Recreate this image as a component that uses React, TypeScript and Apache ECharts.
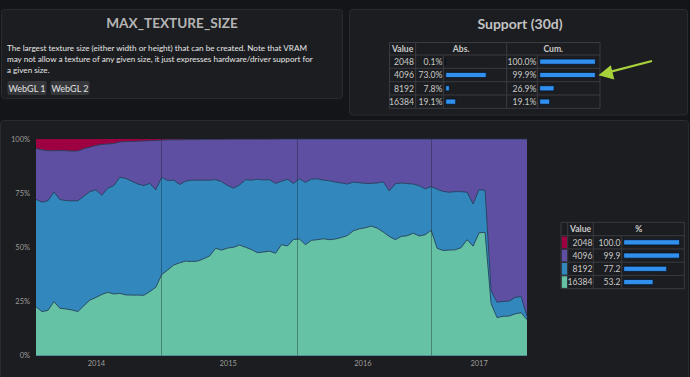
import React, { useEffect, useRef } from 'react';
import * as echarts from 'echarts';

// ---- data ----
const sizes = ['2048', '4096', '8192', '16384'];
const absPct = [0.1, 73.0, 7.8, 19.1];
const cumPct = [100.0, 99.9, 26.9, 19.1];
const legendPct = [100.0, 99.9, 77.2, 53.2];
const yearLabels = ['2014', '2015', '2016', '2017'];
const yearPos = [10.1, 32.1, 54.6, 74.0];
const annotationPos = [21.0, 43.6, 66.0];

// cumulative share (%) of devices supporting at least the given size
const cum2048 = [
  100, 100, 100, 100, 100, 100, 100, 100, 100, 100, 100, 100, 100, 100, 100, 100, 100, 100, 100, 100,
  100, 100, 100, 100, 100, 100, 100, 100, 100, 100, 100, 100, 100, 100, 100, 100, 100, 100, 100, 100,
  100, 100, 100, 100, 100, 100, 100, 100, 100, 100, 100, 100, 100, 100, 100, 100, 100, 100, 100, 100,
  100, 100, 100, 100, 100, 100, 100, 100, 100, 100, 100, 100, 100, 100, 100, 100, 100, 100, 100, 100,
  100, 100, 100,
];
const cum4096 = [
  95.6, 95.0, 94.6, 94.6, 94.7, 94.6, 94.4, 94.5, 95.5, 96.2, 97.0, 97.5, 97.7, 97.9, 98.6, 98.8, 98.9, 99.0, 99.1, 99.2,
  99.3, 99.5, 99.6, 99.6, 99.6, 99.7, 99.7, 99.7, 99.8, 99.8, 99.8, 99.8, 99.9, 99.9, 99.9, 99.9, 99.9, 99.9, 99.9, 99.9,
  99.9, 100, 100, 100, 100, 100, 100, 100, 100, 100, 100, 100, 100, 100, 100, 100, 100, 100, 100, 100,
  100, 100, 100, 100, 100, 100, 100, 100, 100, 100, 100, 100, 100, 100, 100, 100, 100, 100, 100, 100,
  100, 100, 100,
];
const cum8192 = [
  72.1, 70.8, 71.5, 75.5, 72.0, 71.6, 71.4, 71.5, 73.6, 75.7, 76.5, 74.0, 77.3, 78.5, 82.3, 81.8, 80.5, 79.2, 78.5, 79.5,
  76.5, 82.3, 80.8, 81.0, 79.0, 80.5, 81.0, 81.0, 81.0, 81.0, 81.2, 80.3, 78.5, 77.3, 78.8, 81.2, 81.0, 81.4, 81.1, 81.2,
  79.5, 80.5, 81.4, 79.5, 81.6, 80.0, 81.5, 81.6, 81.0, 80.7, 80.1, 79.7, 79.2, 80.1, 79.8, 79.5, 79.5, 79.7, 80.2, 76.0,
  79.3, 79.7, 79.4, 79.2, 78.4, 77.0, 78.0, 76.8, 75.8, 75.4, 75.7, 75.7, 75.4, 70.0, 76.6, 76.3, 30.0, 24.6, 25.0, 25.1,
  26.8, 27.3, 18.0,
];
const cum16384 = [
  22.5, 20.3, 20.8, 24.9, 21.8, 21.5, 21.0, 20.3, 23.0, 25.6, 26.8, 28.2, 29.2, 28.4, 28.7, 28.0, 27.9, 27.9, 27.8, 29.5,
  31.5, 37.4, 39.5, 41.8, 42.8, 43.6, 43.4, 43.6, 44.7, 46.0, 49.5, 48.7, 49.6, 50.0, 51.0, 50.0, 48.9, 47.5, 47.8, 48.2,
  47.2, 51.2, 50.6, 53.6, 53.8, 51.2, 53.2, 53.5, 53.9, 53.5, 53.8, 54.5, 55.4, 57.6, 58.5, 59.0, 59.8, 58.8, 57.0, 55.0,
  53.5, 55.0, 55.3, 56.5, 55.2, 55.8, 57.8, 49.5, 48.5, 48.7, 48.8, 49.8, 53.5, 50.5, 56.7, 56.9, 24.0, 17.5, 18.1, 18.2,
  19.2, 19.8, 16.5,
];

const seriesColors = ['#9e0142', '#5e4fa2', '#3288bd', '#66c2a5'];

const FONT = "Lato, 'Noto Sans', sans-serif";
const PAGE_BG = '#141518';
const PANEL_BG = '#1c1d20';
const PANEL_BORDER = '#2a2b2f';
const TABLE_LINE = '#3a3b40';
const TABLE_TEXT = '#c9c9c9';
const BAR_COLOR = '#3190ee';
const TSIZE = 8.6;

function rect(x: number, y: number, w: number, h: number, fill: string, stroke?: string, r = 0, z = 0) {
  return {
    type: 'rect',
    z,
    silent: true,
    shape: { x, y, width: w, height: h, r },
    style: { fill, stroke: stroke || 'none', lineWidth: stroke ? 1 : 0 },
  };
}
function line(x1: number, y1: number, x2: number, y2: number, stroke = TABLE_LINE, lineWidth = 1, z = 1) {
  return { type: 'line', z, silent: true, shape: { x1, y1, x2, y2 }, style: { stroke, lineWidth } };
}
function txt(x: number, y: number, text: string, o: any = {}) {
  return {
    type: 'text',
    z: 5,
    silent: true,
    x,
    y,
    style: {
      text,
      fill: o.fill || TABLE_TEXT,
      fontFamily: FONT,
      fontSize: o.size || TSIZE,
      fontWeight: o.weight || 'normal',
      align: o.align || 'left',
      verticalAlign: o.valign || 'middle',
      lineHeight: o.lineHeight,
    },
  };
}

function buildGraphics() {
  const G: any[] = [];
  // panels
  G.push(rect(1.5, 9.5, 341, 89, PANEL_BG, PANEL_BORDER, 3));
  G.push(rect(349.5, 9.5, 338, 105.5, PANEL_BG, PANEL_BORDER, 3));
  G.push(rect(0.5, 120.5, 688, 262, PANEL_BG, PANEL_BORDER, 3));

  // left panel content
  G.push(txt(172, 23, 'MAX_TEXTURE_SIZE', { size: 13.6, weight: 'bold', fill: '#b5b5b5', align: 'center' }));
  G.push(
    txt(
      7,
      42.8,
      'The largest texture size (either width or height) that can be created. Note that VRAM\nmay not allow a texture of any given size, it just expresses hardware/driver support for\na given size.',
      { size: 8.15, fill: '#e6e6e6', valign: 'top', lineHeight: 11 }
    )
  );
  G.push(rect(7.5, 81, 39, 14, '#35373b', undefined, 2));
  G.push(txt(27, 88.2, 'WebGL 1', { size: 9, fill: '#e2e2e2', align: 'center' }));
  G.push(rect(50.5, 81, 39, 14, '#35373b', undefined, 2));
  G.push(txt(70, 88.2, 'WebGL 2', { size: 9, fill: '#e2e2e2', align: 'center' }));

  // right panel
  G.push(txt(520, 23.3, 'Support (30d)', { size: 14, weight: 'bold', fill: '#c2c2c2', align: 'center' }));

  // support table
  const tL = 389.5, tR = 600, tT = 42.5, hB = 55, rowH = 13.33;
  const tB = hB + rowH * 4;
  G.push(rect(tL, tT, tR - tL, tB - tT, 'rgba(0,0,0,0)', TABLE_LINE, 0, 1));
  for (let i = 0; i < 4; i++) G.push(line(tL, hB + rowH * i, tR, hB + rowH * i));
  G.push(line(415.7, tT, 415.7, tB));
  G.push(line(443.3, hB, 443.3, tB));
  G.push(line(506.7, tT, 506.7, tB));
  G.push(line(537.3, hB, 537.3, tB));
  const hY = (tT + hB) / 2 + 0.3;
  G.push(txt(402.6, hY, 'Value', { weight: 'bold', align: 'center' }));
  G.push(txt(461.2, hY, 'Abs.', { weight: 'bold', align: 'center' }));
  G.push(txt(553.3, hY, 'Cum.', { weight: 'bold', align: 'center' }));
  sizes.forEach((s, i) => {
    const cy = hB + rowH * (i + 0.5) + 0.3;
    G.push(txt(414, cy, s, { align: 'right' }));
    G.push(txt(442.3, cy, absPct[i].toFixed(1) + '%', { align: 'right' }));
    G.push(txt(536.3, cy, cumPct[i].toFixed(1) + '%', { align: 'right' }));
  });

  // arrow annotation
  G.push(line(652, 61, 607, 72.6, '#a8d23c', 2.2, 10));
  G.push({
    type: 'polygon',
    z: 10,
    silent: true,
    shape: { points: [[598.5, 75.3], [610.8, 65.3], [614.3, 79.6]] },
    style: { fill: '#a8d23c' },
  });

  // legend table
  const lL = 561, lR = 684.3, lT = 222.3, lhB = 235.7, lRow = 13.25;
  const lB = lhB + lRow * 4;
  G.push(rect(lL, lT, lR - lL, lB - lT, 'rgba(0,0,0,0)', TABLE_LINE, 0, 1));
  for (let i = 0; i < 4; i++) G.push(line(lL, lhB + lRow * i, lR, lhB + lRow * i));
  G.push(line(567.7, lT, 567.7, lB));
  G.push(line(593.3, lT, 593.3, lB));
  G.push(line(621.7, lhB, 621.7, lB));
  const lhY = (lT + lhB) / 2 + 0.3;
  G.push(txt(580.5, lhY, 'Value', { weight: 'bold', align: 'center' }));
  G.push(txt(638.8, lhY, '%', { weight: 'bold', align: 'center' }));
  sizes.forEach((s, i) => {
    const y0 = lhB + lRow * i;
    const cy = y0 + lRow / 2 + 0.3;
    G.push(rect(561.8, y0 + 0.8, 5.2, lRow - 1.6, seriesColors[i], undefined, 0, 2));
    G.push(txt(592.5, cy, s, { align: 'right' }));
    G.push(txt(620.5, cy, legendPct[i].toFixed(1), { align: 'right' }));
  });
  return G;
}

function pairs(arr: number[]) {
  return arr.map((v, i) => [i, v]);
}

export default function App() {
  const ref = useRef<HTMLDivElement>(null);
  useEffect(() => {
    if (!ref.current) return;
    const chart = echarts.init(ref.current, undefined, { renderer: 'svg' });
    const areaLines = [cum2048, cum4096, cum8192, cum16384];
    const main: any[] = areaLines.map((arr, k) => ({
      type: 'line',
      xAxisIndex: 0,
      yAxisIndex: 0,
      data: pairs(arr),
      symbol: 'none',
      silent: true,
      z: 2 + k * 0.01,
      lineStyle: { width: k === 0 ? 0 : 0.9, color: '#27415c' },
      areaStyle: { color: seriesColors[k], opacity: 1 },
      itemStyle: { color: seriesColors[k] },
      ...(k === 3
        ? {
            markLine: {
              silent: true,
              symbol: 'none',
              label: { show: false },
              lineStyle: { color: 'rgba(25,30,40,0.38)', width: 1, type: 'solid' },
              data: annotationPos.map((p) => ({ xAxis: p })),
            },
          }
        : {}),
    }));
    const barSeries = [
      { data: absPct, xi: 1 },
      { data: cumPct, xi: 2 },
      { data: legendPct, xi: 3 },
    ].map((b) => ({
      type: 'bar',
      xAxisIndex: b.xi,
      yAxisIndex: b.xi,
      data: b.data,
      barWidth: 6,
      silent: true,
      itemStyle: { color: BAR_COLOR, borderColor: 'rgba(5,15,30,0.9)', borderWidth: 0.8 },
    }));
    const smallX = (g: number) => ({ type: 'value', gridIndex: g, min: 0, max: 100, show: false });
    const smallY = (g: number) => ({ type: 'category', gridIndex: g, data: sizes, inverse: true, show: false });
    chart.setOption({
      animation: false,
      backgroundColor: PAGE_BG,
      textStyle: { fontFamily: FONT },
      graphic: buildGraphics(),
      grid: [
        { left: 36, right: 163, top: 139, bottom: 21.5 },
        { left: 445.3, top: 55, width: 56.6, height: 53.3 },
        { left: 539.3, top: 55, width: 56.5, height: 53.3 },
        { left: 623.3, top: 235.7, width: 56.7, height: 53 },
      ],
      xAxis: [
        {
          type: 'value',
          gridIndex: 0,
          min: 0,
          max: cum16384.length - 1,
          axisLine: { show: false },
          axisTick: { show: false },
          splitLine: { show: false },
          axisLabel: {
            customValues: yearPos,
            formatter: (v: number) => {
              const i = yearPos.indexOf(v);
              return i >= 0 ? yearLabels[i] : '';
            },
            color: '#9c9c9c',
            fontSize: 7.5,
            fontFamily: FONT,
            margin: 4,
          },
        },
        smallX(1),
        smallX(2),
        smallX(3),
      ],
      yAxis: [
        {
          type: 'value',
          gridIndex: 0,
          min: 0,
          max: 100,
          interval: 25,
          axisLine: { show: false },
          axisTick: { show: false },
          splitLine: { show: false },
          axisLabel: { formatter: '{value}%', color: '#9c9c9c', fontSize: 7.5, fontFamily: FONT, margin: 6 },
        },
        smallY(1),
        smallY(2),
        smallY(3),
      ],
      series: [...main, ...barSeries],
    });
    return () => chart.dispose();
  }, []);
  return (
    <div
      ref={ref}
      style={{ position: 'fixed', left: 0, top: 0, width: 690, height: 377, background: PAGE_BG }}
    />
  );
}
